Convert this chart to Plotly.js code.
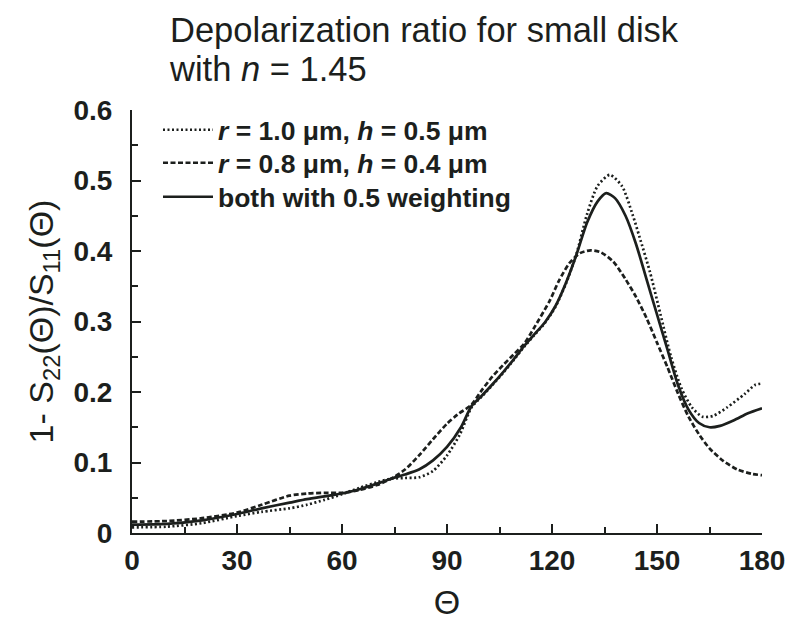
<!DOCTYPE html>
<html>
<head>
<meta charset="utf-8">
<script src="https://cdn.plot.ly/plotly-3.0.1.min.js"></script>
<style>
  html, body { margin: 0; padding: 0; background: #ffffff; }
  #chart { width: 795px; height: 634px; }
</style>
</head>
<body>
<div id="chart"></div>
<script>
// Depolarization ratio 1 - S22/S11 versus scattering angle for a small disk, n = 1.45

// r = 1.0 um, h = 0.5 um
const thetaLarge = [0, 10, 20, 30, 37, 45, 50, 55, 60, 65, 70, 74, 78, 82, 86, 90, 93.7, 97,
  100, 103, 106, 109, 112, 115, 118, 121, 124, 127, 130, 133, 136.5, 140, 143, 145,
  148, 151, 154, 157, 160, 163, 166, 170, 175, 178, 180];
const depolLarge = [0.008, 0.009, 0.014, 0.024, 0.030, 0.035, 0.040, 0.047, 0.055, 0.064, 0.072, 0.077, 0.078, 0.079, 0.088, 0.110, 0.140, 0.178,
  0.194, 0.210, 0.227, 0.245, 0.264, 0.281, 0.298, 0.321, 0.354, 0.396, 0.452, 0.492, 0.508, 0.492, 0.452, 0.420,
  0.370, 0.310, 0.250, 0.205, 0.178, 0.165, 0.166, 0.178, 0.197, 0.210, 0.212];

// r = 0.8 um, h = 0.4 um
const thetaSmall = [0, 10, 20, 30, 37, 45, 50, 55, 60, 65, 70, 74, 78, 82, 86, 90, 93, 97,
  100, 103, 106, 109, 112, 115, 119.4, 122, 125, 128, 131, 134, 137.5, 141, 144, 147,
  150, 153, 156, 159, 162, 165, 169, 173, 177, 180];
const depolSmall = [0.016, 0.017, 0.021, 0.029, 0.040, 0.053, 0.056, 0.057, 0.057, 0.061, 0.068, 0.077, 0.090, 0.110, 0.133, 0.155, 0.168, 0.182,
  0.203, 0.222, 0.238, 0.253, 0.268, 0.292, 0.330, 0.358, 0.383, 0.397, 0.401, 0.398, 0.385, 0.360, 0.335, 0.305,
  0.270, 0.235, 0.198, 0.165, 0.140, 0.120, 0.102, 0.090, 0.084, 0.082];

// both sizes with 0.5 weighting
const thetaMix = [0, 10, 20, 30, 37, 45, 50, 55, 60, 65, 70, 74, 78, 82, 86, 90, 94, 97,
  100, 103, 106, 109, 112, 115, 118, 121, 124, 127, 130, 133, 135.5, 138, 141, 144,
  147, 150, 153, 156, 159, 162, 165, 168, 172, 176, 180];
const depolMix = [0.012, 0.013, 0.018, 0.027, 0.035, 0.043, 0.048, 0.052, 0.056, 0.062, 0.070, 0.077, 0.083, 0.090, 0.103, 0.122, 0.150, 0.180,
  0.195, 0.211, 0.228, 0.246, 0.265, 0.282, 0.299, 0.322, 0.355, 0.395, 0.440, 0.470, 0.482, 0.475, 0.450, 0.410,
  0.360, 0.310, 0.260, 0.210, 0.175, 0.156, 0.150, 0.152, 0.160, 0.170, 0.177];

const seriesNames = [
  '<i>r</i> = 1.0 μm, <i>h</i> = 0.5 μm',
  '<i>r</i> = 0.8 μm, <i>h</i> = 0.4 μm',
  'both with 0.5 weighting'
];

const xTickVals = [0, 30, 60, 90, 120, 150, 180];
const xTickText = ['0', '30', '60', '90', '120', '150', '180'];
const yTickVals = [0, 0.1, 0.2, 0.3, 0.4, 0.5, 0.6];
const yTickText = ['0', '0.1', '0.2', '0.3', '0.4', '0.5', '0.6'];

const ink = '#1c1f1d';
const FONT = 'Liberation Sans, Arial, sans-serif';

// plot box in pixels, used to place the legend rows
const PLOT_LEFT = 132, PLOT_TOP = 110, PLOT_W = 630, PLOT_H = 423;
const legendRowY = [130, 163, 197];

function curve(x, y, name, dash, legendId) {
  return {
    x: x, y: y, name: name, type: 'scatter', mode: 'lines',
    legend: legendId,
    line: { color: ink, width: 2.7, dash: dash, shape: 'spline', smoothing: 0.7 }
  };
}

const traces = [
  curve(thetaLarge, depolLarge, seriesNames[0], '2px,2.5px', 'legend'),
  curve(thetaSmall, depolSmall, seriesNames[1], '5px,2.5px', 'legend2'),
  curve(thetaMix, depolMix, seriesNames[2], 'solid', 'legend3')
];

function legendRow(row) {
  return {
    x: (158 - PLOT_LEFT) / PLOT_W, xanchor: 'left',
    y: 1 - (legendRowY[row] - PLOT_TOP) / PLOT_H, yanchor: 'middle',
    bgcolor: 'rgba(0,0,0,0)', borderwidth: 0,
    itemwidth: 50,
    font: { family: FONT, size: 26.5, color: ink, weight: 'bold' }
  };
}

const axisCommon = {
  showgrid: false, zeroline: false, showline: true,
  linecolor: ink, linewidth: 2,
  ticks: 'inside', tickcolor: ink, tickwidth: 2, ticklen: 9,
  tickfont: { family: FONT, size: 28, color: ink, weight: 'bold' },
  fixedrange: true
};

const layout = {
  width: 795, height: 634,
  margin: { l: PLOT_LEFT, r: 795 - PLOT_LEFT - PLOT_W, t: PLOT_TOP, b: 634 - PLOT_TOP - PLOT_H },
  paper_bgcolor: '#ffffff', plot_bgcolor: '#ffffff',
  showlegend: true,
  title: {
    text: 'Depolarization ratio for small disk',
    font: { family: FONT, size: 34.5, color: ink },
    xref: 'container', x: 170 / 795, xanchor: 'left',
    yref: 'container', y: 1 - 18 / 634, yanchor: 'top'
  },
  annotations: [{
    text: 'with <i>n</i> = 1.45',
    xref: 'paper', yref: 'paper',
    x: (167 - PLOT_LEFT) / PLOT_W, xanchor: 'left',
    y: 1 + (PLOT_TOP - 48) / PLOT_H, yanchor: 'top',
    showarrow: false,
    font: { family: FONT, size: 34.5, color: ink }
  }],
  xaxis: Object.assign({}, axisCommon, {
    range: [0, 180],
    tickvals: xTickVals, ticktext: xTickText,
    ticklabelstandoff: 1,
    minor: { ticks: 'inside', dtick: 15, tick0: 0, ticklen: 6, tickwidth: 2, tickcolor: ink },
    title: { text: 'Θ', font: { family: FONT, size: 34, color: ink }, standoff: 16 }
  }),
  yaxis: Object.assign({}, axisCommon, {
    range: [0, 0.6],
    tickvals: yTickVals, ticktext: yTickText,
    ticklabelstandoff: 12,
    minor: { ticks: 'inside', dtick: 0.05, tick0: 0, ticklen: 6, tickwidth: 2, tickcolor: ink },
    title: {
      text: '1- S<sub>22</sub>(Θ)/S<sub>11</sub>(Θ)',
      font: { family: FONT, size: 34, color: ink }, standoff: 10
    }
  }),
  legend: legendRow(0),
  legend2: legendRow(1),
  legend3: legendRow(2)
};

Plotly.newPlot('chart', traces, layout, { staticPlot: true, displayModeBar: false });
</script>
</body>
</html>
